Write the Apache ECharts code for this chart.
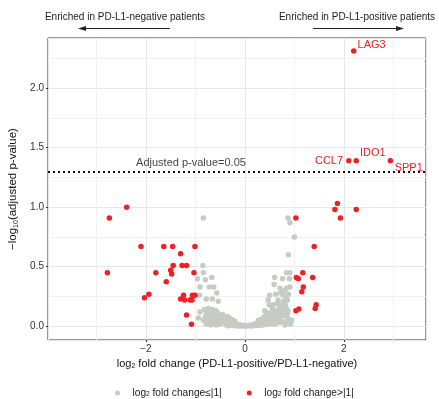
<!DOCTYPE html>
<html><head><meta charset="utf-8">
<script src="https://cdn.jsdelivr.net/npm/echarts@6/dist/echarts.min.js"></script>
<style>html,body{margin:0;padding:0;background:#fff}#c{width:439px;height:399px}</style>
</head><body><div id="c"></div>
<script>
// ---- data (log2 FC, -log10 adjusted p) ----
const notSigPoints = [
 [-0.84,0.91],[0.87,0.91],[0.91,0.87],[1.00,0.75],[0.88,0.60],
 [-0.85,0.51],[-0.84,0.45],[-0.96,0.40],[-0.67,0.41],[-0.80,0.39],[-0.91,0.33],[-0.72,0.33],[-0.63,0.33],
 [-0.57,0.28],[-0.92,0.26],[-0.78,0.23],[-0.66,0.23],[-0.54,0.21],[-0.91,0.12],[-0.94,0.07],[-0.69,0.08],
 [0.84,0.45],[0.91,0.45],[0.60,0.41],[0.90,0.40],[0.76,0.40],[0.59,0.35],[0.71,0.32],[0.91,0.33],[0.84,0.32],
 [0.50,0.26],[0.77,0.26],[0.47,0.22],[0.67,0.22],[0.84,0.235],[0.49,0.18],[0.71,0.165],[0.81,0.19],[0.40,0.13],
 [0.87,0.13],[0.94,0.05],[0.81,0.01],[0.62,0.27],[0.72,0.28],[0.80,0.30],[0.66,0.19],[0.55,0.15],[0.75,0.12],
 [0.60,0.10],[0.70,0.07],[0.85,0.08],
 [-0.82,0.14],[-0.78,0.12],[-0.74,0.15],[-0.70,0.13],[-0.66,0.14],[-0.62,0.12],[-0.58,0.13],[-0.55,0.11],
 [-0.84,0.05],[-0.80,0.08],[-0.76,0.06],[-0.72,0.09],[-0.68,0.05],[-0.64,0.08],[-0.60,0.06],[-0.56,0.08],
 [-0.52,0.07],[-0.49,0.09],[-0.78,0.02],[-0.74,0.03],[-0.70,0.01],[-0.66,0.02],[-0.62,0.03],[-0.58,0.01],
 [-0.54,0.03],[-0.50,0.02],[-0.46,0.04],[-0.42,0.06],[-0.45,0.10],[-0.40,0.03],[-0.37,0.05],[-0.34,0.02],
 [-0.31,0.04],[-0.28,0.02],[-0.25,0.03],[-0.22,0.015],[-0.19,0.02],[-0.16,0.01],[-0.13,0.015],[-0.10,0.005],
 [-0.07,0.01],[-0.04,0.005],[-0.01,0.002],[-0.38,0.01],[-0.33,0.005],[-0.27,0.008],[-0.21,0.004],[-0.15,0.003],
 [-0.09,0.002],[-0.35,0.08],[-0.30,0.065],[-0.25,0.055],[-0.20,0.04],
 [0.02,0.003],[0.05,0.005],[0.08,0.008],[0.11,0.004],[0.14,0.01],[0.17,0.012],[0.20,0.02],[0.23,0.015],
 [0.26,0.025],[0.29,0.02],[0.32,0.035],[0.35,0.03],[0.38,0.045],[0.41,0.04],[0.44,0.06],[0.47,0.05],
 [0.50,0.07],[0.53,0.06],[0.56,0.08],[0.59,0.07],[0.62,0.05],[0.65,0.09],[0.68,0.11],[0.72,0.10],
 [0.76,0.14],[0.79,0.09],[0.83,0.16],[0.86,0.11],[0.89,0.06],[0.92,0.02],[0.12,0.002],[0.18,0.004],
 [0.24,0.006],[0.30,0.008],[0.36,0.01],[0.42,0.015],[0.48,0.02],[0.54,0.025],[0.60,0.02],[0.66,0.03],
 [0.72,0.035],[0.78,0.04],[0.84,0.03],[0.27,0.05],[0.33,0.06],[0.39,0.08],[0.45,0.09],[0.51,0.11],
 [0.57,0.12],[0.63,0.13],[0.69,0.15],[0.74,0.18],[0.78,0.21],[0.86,0.22],[0.88,0.27],[0.57,0.18],[0.43,0.12]
];
const sigPoints = [
 [-2.39,1.00],[-2.74,0.91],[-2.10,0.67],[-1.64,0.67],[-1.46,0.67],[-1.01,0.67],[-1.30,0.61],[-1.45,0.51],
 [-1.27,0.51],[-1.18,0.51],[-1.50,0.47],[-1.48,0.44],[-1.80,0.45],[-2.78,0.45],[-1.03,0.45],[-1.59,0.375],
 [-1.94,0.27],[-2.03,0.24],[-1.24,0.26],[-1.30,0.23],[-1.22,0.22],[-1.11,0.22],[-1.06,0.26],[-1.01,0.26],
 [-1.07,0.22],[-1.18,0.095],[-1.08,0.017],
 [1.87,1.03],[1.82,0.98],[2.25,0.98],[1.93,0.91],[1.03,0.91],[1.40,0.67],[1.17,0.45],[1.04,0.41],
 [1.08,0.40],[1.37,0.41],[1.18,0.33],[1.15,0.29],[1.44,0.18],[1.42,0.15],[1.09,0.145],[1.03,0.13]
];
const geneNames = ['LAG3','CCL7','IDO1','SPP1'];
const geneX = [2.20, 2.10, 2.25, 2.94];
const geneY = [2.31, 1.39, 1.39, 1.39];
const thresholdValue = 1.301; // -log10(0.05)
const thresholdText = 'Adjusted p-value=0.05';
const xMinorGrid = [-3, -1, 1, 3];
const yMinorGrid = [0.25, 0.75, 1.25, 1.75, 2.25];
const NS_NAME = 'log2 fold change\u2264|1|';
const SIG_NAME = 'log2 fold change>|1|';
const headerLeft = 'Enriched in PD-L1-negative patients';
const headerRight = 'Enriched in PD-L1-positive patients';

// ---- styling ----
const FONT = '"Liberation Sans", Arial, sans-serif';
const RED = '#ee2025', GREY = '#c6cbc3';
const geneLabelStyle = {
  LAG3: {position:'right', distance:1, offset:[0,-6]},
  CCL7: {position:'left', distance:3, offset:[0,0]},
  IDO1: {position:'right', distance:1, offset:[0,-8]},
  SPP1: {position:'right', distance:1.5, offset:[0,7.5]}
};
const geneData = geneNames.map((n,i)=>({
  name:n, value:[geneX[i], geneY[i]],
  label:Object.assign({show:true, formatter:'{b}', color:RED, fontSize:11, fontFamily:FONT}, geneLabelStyle[n])
}));
const subRich = (fs)=>({sub:{fontSize:fs, verticalAlign:'bottom'}});

const chart = echarts.init(document.getElementById('c'));
const option = {
  animation:false,
  textStyle:{fontFamily:FONT},
  grid:{left:48,right:13,top:38,bottom:59,show:true,borderColor:'#333',borderWidth:1,containLabel:false,outerBoundsMode:'none'},
  xAxis:{
    type:'value', min:-3.98, max:3.66, splitNumber:5,
    axisLine:{show:false,onZero:false},
    axisTick:{show:true,length:2,lineStyle:{color:'#333'}},
    axisLabel:{margin:4,fontSize:10,color:'#333',fontFamily:FONT,showMinLabel:false,showMaxLabel:false,
      formatter:v=>Math.abs(v/2-Math.round(v/2))>1e-6?'':(v<0?'\u2212'+(-v):String(v))},
    splitLine:{show:true,lineStyle:{color:'#e6e6e6',width:1}},
    name:'log{sub|2} fold change (PD-L1-positive/PD-L1-negative)',
    nameLocation:'middle', nameGap:17,
    nameTextStyle:{fontSize:11,color:'#111',fontFamily:FONT,rich:subRich(7)}
  },
  yAxis:{
    type:'value', min:-0.115, max:2.42, splitNumber:5,
    axisLine:{show:false,onZero:false},
    axisTick:{show:true,length:2,lineStyle:{color:'#333'}},
    axisLabel:{margin:4,fontSize:10,color:'#333',fontFamily:FONT,showMinLabel:false,showMaxLabel:false,
      formatter:v=>Math.abs(v/0.5-Math.round(v/0.5))>1e-6?'':v.toFixed(1)},
    splitLine:{show:true,lineStyle:{color:'#e6e6e6',width:1}},
    name:'\u2212log{sub|10}(adjusted p-value)',
    nameLocation:'middle', nameGap:27,
    nameTextStyle:{fontSize:11.5,color:'#111',fontFamily:FONT,rich:subRich(7)}
  },
  legend:{
    data:[NS_NAME, SIG_NAME], left:110, top:383, icon:'circle',
    itemWidth:20, itemHeight:5, itemGap:25,
    textStyle:{fontSize:10.2,color:'#222',fontFamily:FONT,rich:subRich(6.5)},
    formatter:n=>n.replace('log2','log{sub|2}')
  },
  graphic:[
    {type:'text', style:{text:headerLeft, x:125, y:17, align:'center', verticalAlign:'middle', fontSize:10, fontFamily:FONT, fill:'#222'}},
    {type:'text', style:{text:headerRight, x:357, y:17, align:'center', verticalAlign:'middle', fontSize:10, fontFamily:FONT, fill:'#222'}},
    {type:'line', shape:{x1:170,y1:28.5,x2:83,y2:28.5}, style:{stroke:'#222',lineWidth:1}},
    {type:'polygon', shape:{points:[[78,28.5],[86,26],[86,31]]}, style:{fill:'#222'}},
    {type:'line', shape:{x1:313,y1:28.5,x2:399,y2:28.5}, style:{stroke:'#222',lineWidth:1}},
    {type:'polygon', shape:{points:[[404,28.5],[396,26],[396,31]]}, style:{fill:'#222'}}
  ],
  series:[
    {type:'scatter', name:'minorGrid', data:[], z:0, silent:true,
      markLine:{z:0, silent:true, symbol:'none', label:{show:false}, animation:false,
        lineStyle:{color:'#f1f1f1',width:1,type:'solid'},
        data:[...xMinorGrid.map(v=>({xAxis:v})), ...yMinorGrid.map(v=>({yAxis:v}))]}},
    {type:'scatter', name:NS_NAME, data:notSigPoints, symbolSize:5.5, z:2,
      itemStyle:{color:GREY, opacity:1}},
    {type:'scatter', name:SIG_NAME, data:[...sigPoints, ...geneData], symbolSize:5.5, z:3,
      itemStyle:{color:RED, opacity:1}},
    {type:'scatter', name:'threshold', z:4, silent:true, symbolSize:0,
      data:[{name:thresholdText, value:[-1.09, thresholdValue+0.07]}],
      label:{show:true, position:'inside', formatter:'{b}', color:'#111', fontSize:11, fontFamily:FONT},
      markLine:{silent:true, symbol:'none', label:{show:false}, animation:false,
        lineStyle:{color:'#111', width:2, type:[2,3]},
        data:[{yAxis:thresholdValue}]}}
  ]
};
chart.setOption(option);
</script></body></html>
